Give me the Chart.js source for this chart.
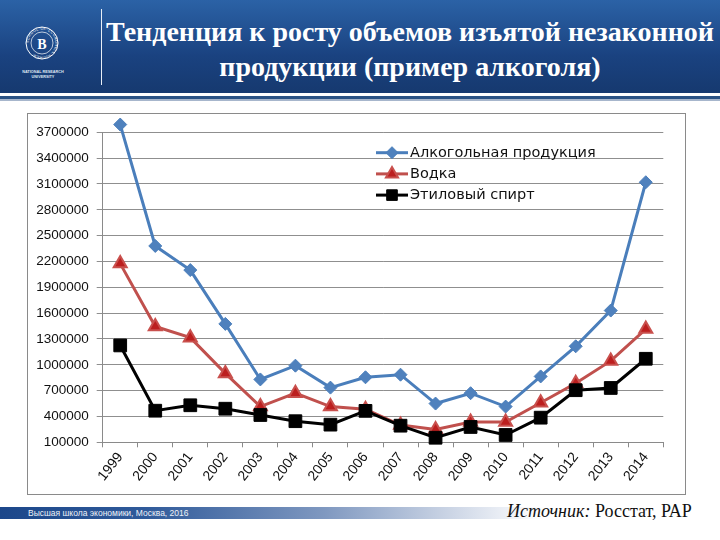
<!DOCTYPE html>
<html><head><meta charset="utf-8">
<script src="https://cdn.jsdelivr.net/npm/chart.js@4/dist/chart.umd.min.js"></script>
<style>
body{margin:0;width:720px;height:540px;position:relative;overflow:hidden;background:#fff;}
.abs{position:absolute;}
</style></head><body>
<div class="abs" style="left:0;top:0;width:720px;height:93px;background:linear-gradient(#2b62a6,#1a4280 60%,#16396f);"></div>
<div class="abs" style="left:0;top:93px;width:720px;height:2.5px;background:#fff;"></div>
<div class="abs" style="left:0;top:95.5px;width:720px;height:3.5px;background:#2a5285;"></div>
<div class="abs" style="left:0;top:99px;width:720px;height:1.5px;background:#a7b6cc;"></div>
<div class="abs" style="left:100.5px;top:9px;width:1.5px;height:76px;background:#e8eef6;"></div>
<svg class="abs" style="left:22px;top:23px" width="40" height="40" viewBox="0 0 40 40">
<defs><path id="rp" d="M20,20 m-13.3,0 a13.3,13.3 0 1,1 26.6,0 a13.3,13.3 0 1,1 -26.6,0"/></defs>
<circle cx="20" cy="20" r="16" fill="none" stroke="#fff" stroke-width="1"/>
<circle cx="20" cy="20" r="11" fill="none" stroke="#fff" stroke-width="0.7"/>
<text font-size="3.6" fill="#fff" font-family="Liberation Sans" letter-spacing="0.4"><textPath href="#rp">SCHOOL·OF·ECONOMICS·HIGHER·</textPath></text>
<text x="20" y="25.5" text-anchor="middle" font-size="14" font-weight="bold" fill="#fff" font-family="Liberation Serif">В</text>
</svg>
<div class="abs" style="left:22px;top:70px;width:42px;text-align:center;color:#dfe6f2;font:bold 3.8px/5px 'Liberation Sans';">NATIONAL RESEARCH<br>UNIVERSITY</div>
<div class="abs" style="left:102px;top:14px;width:616px;text-align:center;color:#fff;font:bold 28px/35px 'Liberation Serif';white-space:nowrap;">Тенденция к росту объемов изъятой незаконной<br>продукции (пример алкоголя)</div>

<div class="abs" style="left:27px;top:113px;width:659px;height:382px;border:1px solid #8a8a8a;box-sizing:border-box;">
<canvas id="c" width="657" height="380" style="position:absolute;left:0;top:0;"></canvas>
</div>

<div class="abs" style="left:0;top:507px;width:720px;height:12px;background:linear-gradient(to right,#1c478a 0%,#2f5a9a 20%,#7f98c0 45%,#c9d3e4 62%,#f4f6fa 72%,#fff 76%);"></div>
<div class="abs" style="left:28px;top:507.5px;color:#eef2f8;font:8.5px/11px 'Liberation Sans';">Высшая школа экономики, Москва, 2016</div>
<div class="abs" style="left:507px;top:500px;color:#111;font:18px/22px 'Liberation Serif';white-space:nowrap;"><i>Источник:</i> Росстат, РАР</div>

<script>
const years = ['1999','2000','2001','2002','2003','2004','2005','2006','2007','2008','2009','2010','2011','2012','2013','2014'];
const seriesNames = ['Алкогольная продукция','Водка','Этиловый спирт'];
const alcohol = [3790000,2380000,2100000,1475000,830000,990000,735000,855000,885000,550000,670000,515000,865000,1215000,1630000,3120000];
const vodka   = [2175000,1445000,1315000,900000,515000,670000,515000,485000,300000,250000,335000,335000,560000,785000,1045000,1415000];
const spirit  = [1225000,467000,530000,490000,417000,345000,305000,465000,293000,153000,278000,185000,386000,705000,731000,1070000];
const yTicks  = [100000,400000,700000,1000000,1300000,1600000,1900000,2200000,2500000,2800000,3100000,3400000,3700000];

// let markers just above the top of the value axis still be drawn (as in the original)
const overflowPlugin = {
  id:'overflow',
  beforeDatasetsDraw(chart){ chart.$origTop = chart.chartArea.top; chart.chartArea.top -= 30; },
  afterDatasetsDraw(chart){ chart.chartArea.top = chart.$origTop; }
};

const legendPlugin = {
  id:'innerLegend',
  afterDatasetsDraw(chart){
    const ctx = chart.ctx;
    const x0 = 348, y0 = 38.7, dy = 21.2;
    chart.data.datasets.forEach((ds,i)=>{
      const y = y0 + i*dy;
      ctx.save();
      ctx.strokeStyle = ds.borderColor; ctx.lineWidth = 3;
      ctx.beginPath(); ctx.moveTo(x0,y); ctx.lineTo(x0+32,y); ctx.stroke();
      ctx.fillStyle = ds.pointBackgroundColor; ctx.strokeStyle = ds.pointBorderColor; ctx.lineWidth = ds.pointBorderWidth;
      ctx.beginPath();
      Chart.helpers.drawPoint(ctx,{pointStyle:ds.pointStyle,radius:ds.legendRadius,rotation:0,borderWidth:ds.pointBorderWidth},x0+16,y);
      ctx.fillStyle = '#111'; ctx.font = "14.5px 'DejaVu Sans'"; ctx.textBaseline='middle'; ctx.textAlign='left';
      ctx.fillText(ds.label, x0+34, y+0.5);
      ctx.restore();
    });
  }
};

new Chart(document.getElementById('c'),{
  type:'line',
  data:{labels:years,datasets:[
    {label:seriesNames[0],data:alcohol,borderColor:'#4a7ebb',borderWidth:3,pointStyle:'rectRot',pointRadius:6.5,legendRadius:6,
     pointBackgroundColor:'#4f81bd',pointBorderColor:'#4a7ebb',pointBorderWidth:1,order:3,clip:false},
    {label:seriesNames[1],data:vodka,borderColor:'#c0504d',borderWidth:3,pointStyle:'triangle',pointRadius:7.5,legendRadius:7,
     pointBackgroundColor:'#bc1f1f',pointBorderColor:'#c9504d',pointBorderWidth:2,order:2,clip:false},
    {label:seriesNames[2],data:spirit,borderColor:'#000',borderWidth:3,pointStyle:'rect',pointRadius:9,legendRadius:7.5,
     pointBackgroundColor:'#000',pointBorderColor:'#000',pointBorderWidth:1,order:1,clip:false}
  ]},
  options:{
    responsive:false,animation:false,devicePixelRatio:1,
    layout:{autoPadding:false,padding:{left:0,top:18.3,right:21.7,bottom:0}},
    plugins:{legend:{display:false},tooltip:{enabled:false}},
    elements:{line:{tension:0}},
    scales:{
      x:{offset:true,
        grid:{offset:true,drawOnChartArea:false,drawTicks:true,tickLength:5,color:'#8a8a8a'},
        border:{color:'#8a8a8a',width:1},
        ticks:{minRotation:52,maxRotation:52,autoSkip:false,padding:2,color:'#111',font:{family:'Liberation Sans',size:14}},
        afterFit(s){s.height=51.7;}
      },
      y:{min:100000,max:3700000,
        afterBuildTicks(s){s.ticks=yTicks.map(v=>({value:v}));},
        grid:{color:'#8f8f8f',lineWidth:1,tickLength:6},
        border:{color:'#8a8a8a',width:1},
        ticks:{padding:8,color:'#111',font:{family:'Liberation Sans',size:13.5},callback:v=>String(v)},
        afterFit(s){s.width=74.7;}
      }
    }
  },
  plugins:[overflowPlugin,legendPlugin]
});
</script>
</body></html>
